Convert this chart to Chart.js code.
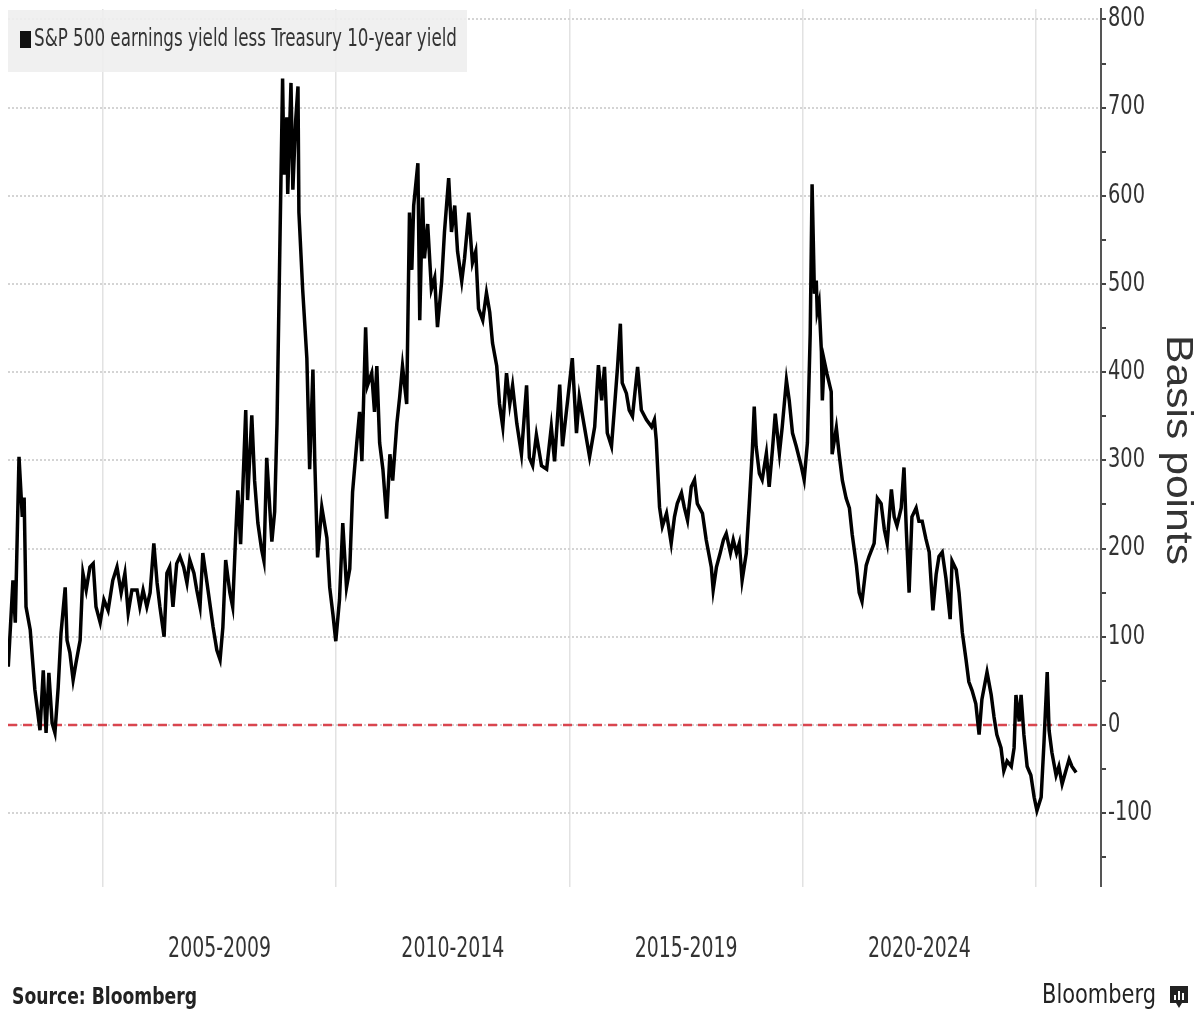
<!DOCTYPE html>
<html>
<head>
<meta charset="utf-8">
<title>S&amp;P 500 earnings yield less Treasury 10-year yield</title>
<script src="https://cdn.jsdelivr.net/npm/chart.js@4.4.1/dist/chart.umd.min.js"></script>
<style>
  html, body { margin: 0; padding: 0; background: #fff; }
  #wrap { width: 1197px; height: 1012px; position: relative; }
</style>
</head>
<body>
<div id="wrap"><canvas id="spreadChart"></canvas></div>
<script>
// S&P 500 earnings yield minus 10-year Treasury yield, basis points
// dates are decimal years
var seriesName = "S&P 500 earnings yield less Treasury 10-year yield";

var dates = [
  2002.97, 2003.07, 2003.12, 2003.20, 2003.27, 2003.31, 2003.35, 2003.44, 2003.54, 2003.65,
  2003.72, 2003.78, 2003.84, 2003.91, 2003.97, 2004.04, 2004.10, 2004.19, 2004.23, 2004.29,
  2004.36, 2004.42, 2004.51, 2004.57, 2004.64, 2004.72, 2004.79, 2004.85, 2004.94, 2005.02,
  2005.11, 2005.21, 2005.30, 2005.39, 2005.47, 2005.54, 2005.62, 2005.73, 2005.79, 2005.86,
  2005.94, 2006.01, 2006.09, 2006.16, 2006.22, 2006.31, 2006.37, 2006.43, 2006.50, 2006.58,
  2006.65, 2006.73, 2006.80, 2006.86, 2006.95, 2007.01, 2007.08, 2007.14, 2007.23, 2007.29,
  2007.36, 2007.44, 2007.51, 2007.57, 2007.63, 2007.72, 2007.78, 2007.84, 2007.89, 2007.95,
  2008.02, 2008.06, 2008.10, 2008.19, 2008.25, 2008.32, 2008.40, 2008.45, 2008.51, 2008.58,
  2008.62, 2008.68, 2008.73, 2008.79, 2008.83, 2008.85, 2008.88, 2008.94, 2008.96, 2009.03,
  2009.07, 2009.13, 2009.18, 2009.20, 2009.28, 2009.37, 2009.43, 2009.50, 2009.54, 2009.60,
  2009.69, 2009.80, 2009.86, 2009.93, 2009.99, 2010.07, 2010.14, 2010.22, 2010.29, 2010.35,
  2010.44, 2010.50, 2010.55, 2010.63, 2010.67, 2010.76, 2010.82, 2010.87, 2010.93, 2011.00,
  2011.08, 2011.15, 2011.21, 2011.30, 2011.36, 2011.42, 2011.51, 2011.57, 2011.62, 2011.66,
  2011.75, 2011.79, 2011.85, 2011.89, 2011.96, 2012.04, 2012.11, 2012.17, 2012.26, 2012.32,
  2012.41, 2012.47, 2012.54, 2012.60, 2012.69, 2012.75, 2012.84, 2012.92, 2012.99, 2013.05,
  2013.14, 2013.22, 2013.29, 2013.35, 2013.44, 2013.50, 2013.57, 2013.65, 2013.72, 2013.78,
  2013.87, 2013.97, 2014.08, 2014.14, 2014.21, 2014.29, 2014.40, 2014.51, 2014.61, 2014.68,
  2014.79, 2014.85, 2014.96, 2015.06, 2015.15, 2015.21, 2015.32, 2015.43, 2015.54, 2015.62,
  2015.69, 2015.75, 2015.81, 2015.90, 2015.96, 2016.03, 2016.09, 2016.13, 2016.22, 2016.28,
  2016.35, 2016.46, 2016.54, 2016.65, 2016.76, 2016.82, 2016.86, 2016.93, 2016.99, 2017.08,
  2017.18, 2017.25, 2017.31, 2017.40, 2017.46, 2017.53, 2017.61, 2017.68, 2017.74, 2017.85,
  2017.93, 2018.04, 2018.08, 2018.15, 2018.23, 2018.30, 2018.36, 2018.45, 2018.51, 2018.58,
  2018.64, 2018.70, 2018.79, 2018.85, 2018.92, 2018.96, 2019.00, 2019.07, 2019.13, 2019.22,
  2019.28, 2019.35, 2019.41, 2019.50, 2019.56, 2019.65, 2019.71, 2019.78, 2019.86, 2019.97,
  2020.03, 2020.10, 2020.16, 2020.20, 2020.25, 2020.29, 2020.31, 2020.35, 2020.40, 2020.42,
  2020.46, 2020.52, 2020.61, 2020.63, 2020.72, 2020.78, 2020.85, 2020.93, 2021.00, 2021.06,
  2021.15, 2021.21, 2021.27, 2021.36, 2021.42, 2021.53, 2021.60, 2021.68, 2021.75, 2021.81,
  2021.90, 2021.96, 2022.02, 2022.11, 2022.17, 2022.22, 2022.28, 2022.34, 2022.43, 2022.49,
  2022.56, 2022.64, 2022.71, 2022.79, 2022.86, 2022.92, 2022.99, 2023.07, 2023.16, 2023.20,
  2023.29, 2023.35, 2023.42, 2023.50, 2023.56, 2023.63, 2023.71, 2023.78, 2023.84, 2023.95,
  2024.04, 2024.10, 2024.16, 2024.25, 2024.31, 2024.38, 2024.47, 2024.53, 2024.57, 2024.64,
  2024.68, 2024.74, 2024.81, 2024.89, 2024.96, 2025.02, 2025.11, 2025.17, 2025.24, 2025.28,
  2025.34, 2025.43, 2025.49, 2025.56, 2025.64, 2025.71, 2025.77, 2025.86
];

var spread = [
   66, 164, 116, 304, 236, 258, 134, 108,  40,  -6,
   62,  -9,  59,   2,  -9,  43, 104, 156,  96,  82,
   51,  70,  96, 172, 153, 179, 183, 134, 116, 142,
  130, 164, 179, 150, 172, 127, 153, 153, 134, 153,
  134, 150, 206, 161, 134, 100, 172, 179, 134, 183,
  191, 179, 161, 187, 172, 153, 134, 195, 161, 138,
  111,  85,  74, 111, 187, 150, 134, 210, 266, 205,
  300, 357, 255, 351, 277, 229, 199, 186, 303, 242,
  208, 242, 342, 537, 667, 733, 624, 689, 602, 728,
  607, 685, 724, 581, 494, 416, 290, 403, 299, 190,
  247, 212, 156, 125,  95, 142, 229, 156, 177, 264,
  320, 355, 299, 451, 385, 399, 355, 407, 320, 290,
  234, 307, 277, 342, 372, 407, 364, 581, 516, 589,
  637, 459, 598, 529, 568, 494, 507, 451, 503, 559,
  620, 559, 589, 537, 503, 529, 581, 524, 537, 472,
  459, 490, 468, 433, 407, 364, 338, 399, 364, 385,
  342, 307, 385, 303, 294, 329, 294, 290, 338, 299,
  386, 316, 368, 416, 331, 372, 338, 304, 338, 408,
  368, 406, 331, 316, 357, 406, 455, 388, 376, 357,
  350, 406, 357, 346, 338, 346, 323, 247, 225, 240,
  206, 236, 251, 263, 247, 232, 270, 278, 251, 240,
  210, 179, 153, 179, 195, 210, 217, 195, 210, 195,
  206, 164, 195, 247, 312, 361, 316, 285, 278, 308,
  270, 312, 353, 308, 338, 391, 368, 331, 316, 293,
  278, 320, 444, 613, 489, 504, 469, 479, 423, 368,
  413, 398, 378, 307, 337, 307, 277, 257, 246, 216,
  181, 150, 140, 181, 191, 206, 257, 251, 221, 206,
  267, 236, 226, 246, 292, 221, 150, 236, 246, 231,
  231, 211, 196, 130, 171, 191, 196, 166, 120, 186,
  176, 150, 105,  74,  49,  39,  24, -11,  29,  60,
   34,   9, -11, -26, -52, -41, -47, -26,  34,   4,
   34, -11, -47, -57, -82, -97, -82, -21,  60,  -6,
  -31, -57, -47, -67, -52, -39, -47, -54
];

// axis ticks
var yTicks = [-150, -100, -50, 0, 50, 100, 150, 200, 250, 300, 350, 400,
              450, 500, 550, 600, 650, 700, 750, 800];
var periodEdges = [2005, 2010, 2015, 2020, 2025];
var periodCenters = [2007.5, 2012.5, 2017.5, 2022.5];
var periodLabels = ["2005-2009", "2010-2014", "2015-2019", "2020-2024"];

var X_MIN = 2002.964, X_MAX = 2026.393;
var Y_MIN = -183.7, Y_MAX = 811.8;

var NARROW = "'Liberation Sans Narrow', 'Arial Narrow', 'DejaVu Sans Condensed', sans-serif";
var REGULAR = "'Liberation Sans', Arial, sans-serif";

var points = dates.map(function (d, i) { return { x: d, y: spread[i] }; });
var zeroLine = [{ x: X_MIN, y: 0 }, { x: X_MAX, y: 0 }];

// draws text squeezed/stretched horizontally to a given width
function fitText(ctx, text, x, y, font, width, align) {
    ctx.save();
    ctx.font = font;
    var k = width / ctx.measureText(text).width;
    ctx.translate(x, y);
    ctx.scale(k, 1);
    ctx.textAlign = align || "left";
    ctx.fillText(text, 0, 0);
    ctx.restore();
}

// grey key box in the top-left corner, over the grid
var legendBox = {
    id: "legendBox",
    beforeDatasetsDraw: function (chart) {
        var ctx = chart.ctx;
        ctx.save();
        ctx.fillStyle = "rgba(238,238,238,0.9)";
        ctx.fillRect(8, 10, 459, 62);
        ctx.fillStyle = "#111";
        ctx.fillRect(20, 31, 11, 17);
        ctx.fillStyle = "#333";
        ctx.textBaseline = "middle";
        fitText(ctx, seriesName, 34, 40, "24px " + NARROW, 423);
        ctx.restore();
    }
};

// tick labels and axis title, narrow like the house font
var axisText = {
    id: "axisText",
    afterDraw: function (chart) {
        var ctx = chart.ctx;
        var xs = chart.scales.x, ys = chart.scales.y;
        ctx.save();
        ctx.fillStyle = "#333";
        ctx.textBaseline = "middle";

        periodCenters.forEach(function (v, i) {
            fitText(ctx, periodLabels[i], xs.getPixelForValue(v), 950,
                    "28px " + NARROW, 103, "center");
        });

        var yFont = "26px " + NARROW;
        ctx.font = yFont;
        var k = 37 / ctx.measureText("800").width;
        yTicks.forEach(function (v) {
            if (v % 100 !== 0) return;
            var label = String(v);
            ctx.font = yFont;
            fitText(ctx, label, ys.left + 7, ys.getPixelForValue(v), yFont,
                    ctx.measureText(label).width * k);
        });

        // rotated axis title, reading downwards
        ctx.save();
        ctx.translate(1177, 450);
        ctx.rotate(Math.PI / 2);
        fitText(ctx, "Basis points", 0, 0, "37px " + REGULAR, 230, "center");
        ctx.restore();
        ctx.restore();
    }
};

// source note and logo along the bottom
var footer = {
    id: "footer",
    afterDraw: function (chart) {
        var ctx = chart.ctx;
        ctx.save();
        ctx.fillStyle = "#222";
        ctx.textBaseline = "alphabetic";
        fitText(ctx, "Source: Bloomberg", 12, 1004, "bold 23px " + NARROW, 185);
        fitText(ctx, "Bloomberg", 1042, 1003, "27px " + NARROW, 114);

        // small mark after the wordmark
        ctx.beginPath();
        ctx.moveTo(1170, 986);
        ctx.lineTo(1188, 986);
        ctx.lineTo(1188, 1003);
        ctx.lineTo(1182, 1003);
        ctx.lineTo(1179, 1008);
        ctx.lineTo(1176, 1003);
        ctx.lineTo(1170, 1003);
        ctx.closePath();
        ctx.fill();
        ctx.fillStyle = "#fff";
        ctx.fillRect(1174, 995, 2, 5);
        ctx.fillRect(1178, 991, 2, 9);
        ctx.fillRect(1182, 993, 2, 7);
        ctx.restore();
    }
};

var ctx = document.getElementById("spreadChart").getContext("2d");
var chart = new Chart(ctx, {
    type: "line",
    data: {
        datasets: [{
            label: seriesName,
            data: points,
            borderColor: "#000",
            borderWidth: 3.5,
            pointRadius: 0,
            tension: 0,
            fill: false,
            order: 1
        }, {
            label: "zero",
            data: zeroLine,
            borderColor: "#d9464f",
            borderWidth: 2.5,
            borderDash: [9, 6],
            pointRadius: 0,
            fill: false,
            order: 2
        }]
    },
    options: {
        responsive: true,
        maintainAspectRatio: false,
        animation: false,
        devicePixelRatio: 1,
        layout: { padding: { left: 8, top: 9, right: 0, bottom: 0 } },
        plugins: {
            legend: { display: false },
            tooltip: { enabled: false }
        },
        scales: {
            x: {
                type: "linear",
                min: X_MIN,
                max: X_MAX,
                afterBuildTicks: function (scale) {
                    scale.ticks = periodEdges.map(function (v) { return { value: v }; });
                },
                afterFit: function (scale) { scale.height = 125; },
                grid: { drawTicks: false, lineWidth: 1.5, color: "#e2e2e2" },
                border: { display: false },
                ticks: { display: false }
            },
            y: {
                position: "right",
                min: Y_MIN,
                max: Y_MAX,
                afterBuildTicks: function (scale) {
                    scale.ticks = yTicks.map(function (v) { return { value: v }; });
                },
                afterFit: function (scale) { scale.width = 96; },
                grid: {
                    drawTicks: true,
                    tickLength: 5,
                    tickWidth: 2,
                    tickColor: "#444",
                    lineWidth: function (c) {
                        return c.tick && c.tick.value % 100 === 0 ? 2 : 0;
                    },
                    color: "#d4d4d4"
                },
                border: { display: true, color: "#555", width: 2, dash: [2, 2] },
                ticks: { display: false }
            }
        }
    },
    plugins: [legendBox, axisText, footer]
});
</script>
</body>
</html>
